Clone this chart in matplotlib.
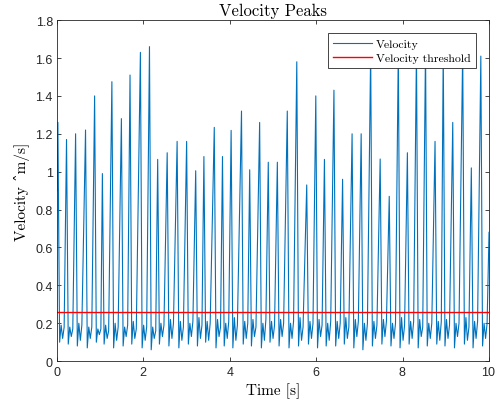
import matplotlib
matplotlib.use("Agg")
import matplotlib.pyplot as plt

# peak times [s] and peak velocities [m/s]
peak_t = [0.02, 0.22, 0.43, 0.66, 0.87, 1.05, 1.27, 1.49, 1.69, 1.93, 2.14, 2.33,
          2.55, 2.78, 3.00, 3.21, 3.40, 3.64, 3.83, 4.03, 4.27, 4.46, 4.69, 4.89,
          5.10, 5.33, 5.55, 5.78, 5.99, 6.19, 6.41, 6.61, 6.83, 7.04, 7.26, 7.48,
          7.69, 7.90, 8.11, 8.32, 8.53, 8.75, 8.94, 9.16, 9.39, 9.59, 9.81]
peak_v = [1.26, 1.17, 1.20, 1.22, 1.40, 0.99, 1.475, 1.28, 1.51, 1.63, 1.66, 1.065,
          1.10, 1.16, 1.16, 1.005, 1.08, 1.234, 1.08, 1.218, 1.32, 1.01, 1.26, 1.05,
          1.05, 1.32, 1.58, 0.93, 1.40, 1.065, 1.43, 0.96, 1.20, 1.20, 1.64, 1.067,
          0.87, 1.65, 1.10, 1.64, 1.66, 1.16, 1.65, 1.26, 1.64, 1.02, 1.61]

# baseline wiggles between peaks (first dip, bump, second dip, bump)
trough_a = [0.10, 0.09, 0.08, 0.07, 0.10, 0.09, 0.07, 0.08, 0.09, 0.07, 0.06, 0.09,
            0.08, 0.07, 0.09, 0.08, 0.10, 0.07, 0.08, 0.07, 0.09, 0.08, 0.07, 0.10,
            0.08, 0.07, 0.08, 0.09, 0.07, 0.08, 0.08, 0.09, 0.07, 0.06, 0.08, 0.09,
            0.08, 0.07, 0.09, 0.07, 0.08, 0.09, 0.08, 0.07, 0.09, 0.07, 0.08]
bump_a = [0.19, 0.18, 0.20, 0.18, 0.17, 0.19, 0.20, 0.18, 0.21, 0.19, 0.18, 0.20,
          0.22, 0.21, 0.20, 0.23, 0.21, 0.22, 0.20, 0.23, 0.21, 0.22, 0.20, 0.21,
          0.22, 0.20, 0.23, 0.21, 0.22, 0.20, 0.21, 0.23, 0.22, 0.20, 0.21, 0.22,
          0.20, 0.23, 0.21, 0.22, 0.20, 0.21, 0.22, 0.20, 0.23, 0.21, 0.20]
trough_b = [0.12, 0.13, 0.11, 0.12, 0.14, 0.12, 0.11, 0.13, 0.12, 0.11, 0.12, 0.13,
            0.12, 0.11, 0.13, 0.12, 0.11, 0.13, 0.12, 0.11, 0.12, 0.13, 0.11, 0.12,
            0.13, 0.12, 0.11, 0.12, 0.13, 0.11, 0.12, 0.12, 0.13, 0.11, 0.12, 0.13,
            0.12, 0.11, 0.12, 0.13, 0.12, 0.11, 0.12, 0.13, 0.11, 0.12, 0.12]
bump_b = [0.18, 0.17, 0.19, 0.18, 0.17, 0.16, 0.18, 0.19, 0.17, 0.18, 0.16, 0.19,
          0.20, 0.18, 0.21, 0.19, 0.20, 0.18, 0.21, 0.19, 0.20, 0.18, 0.22, 0.19,
          0.20, 0.21, 0.18, 0.20, 0.19, 0.21, 0.20, 0.18, 0.21, 0.20, 0.19, 0.21,
          0.20, 0.19, 0.21, 0.18, 0.20, 0.21, 0.19, 0.20, 0.18, 0.21, 0.20]

start_v = 0.90
end_v = 0.68
threshold = 0.26

# assemble the velocity trace
t = [0.0]
v = [start_v]
for i in range(len(peak_t)):
    tp = peak_t[i]
    t += [tp, tp + 0.04, tp + 0.075, tp + 0.11, tp + 0.145]
    v += [peak_v[i], trough_a[i], bump_a[i], trough_b[i], bump_b[i]]
t.append(10.0)
v.append(end_v)

plt.rcParams['axes.formatter.use_mathtext'] = True
serif = ['cmr10', 'DejaVu Serif']

fig = plt.figure(figsize=(4.98, 4.06), dpi=100)
ax = fig.add_axes([0.1145, 0.108, 0.8675, 0.84])

ax.plot(t, v, color=(0, 0.447, 0.741), linewidth=0.8, label='Velocity')
ax.axhline(threshold, color='red', linewidth=1.0, label='Velocity threshold')

ax.set_xlim(0, 10)
ax.set_ylim(0, 1.8)
ax.set_xticks(range(0, 11, 2))
ax.set_yticks([0, 0.2, 0.4, 0.6, 0.8, 1.0, 1.2, 1.4, 1.6, 1.8])
ax.set_yticklabels(['0', '0.2', '0.4', '0.6', '0.8', '1', '1.2', '1.4', '1.6', '1.8'])

for lab in ax.get_xticklabels() + ax.get_yticklabels():
    lab.set_family('Liberation Sans')
    lab.set_fontsize(9)
    lab.set_color('0.15')

ax.tick_params(direction='in', top=True, right=True, length=3, width=0.6, color='0.15', pad=3)
for sp in ax.spines.values():
    sp.set_linewidth(0.6)
    sp.set_color('0.15')

ax.set_title('Velocity Peaks', family=serif, fontsize=12, pad=4)
ax.set_xlabel('Time [s]', family=serif, fontsize=11, labelpad=3)
ax.set_ylabel('Velocity ˆm/s]', family=serif, fontsize=11, labelpad=4)

leg = ax.legend(loc='upper right', prop={'family': serif, 'size': 8.5},
                fancybox=False, edgecolor='0.15', framealpha=1,
                handlelength=3.3, borderaxespad=1.1, borderpad=0.45,
                labelspacing=0.35, handletextpad=0.3)
leg.get_frame().set_linewidth(0.6)

fig.savefig('out.png', dpi=100)
